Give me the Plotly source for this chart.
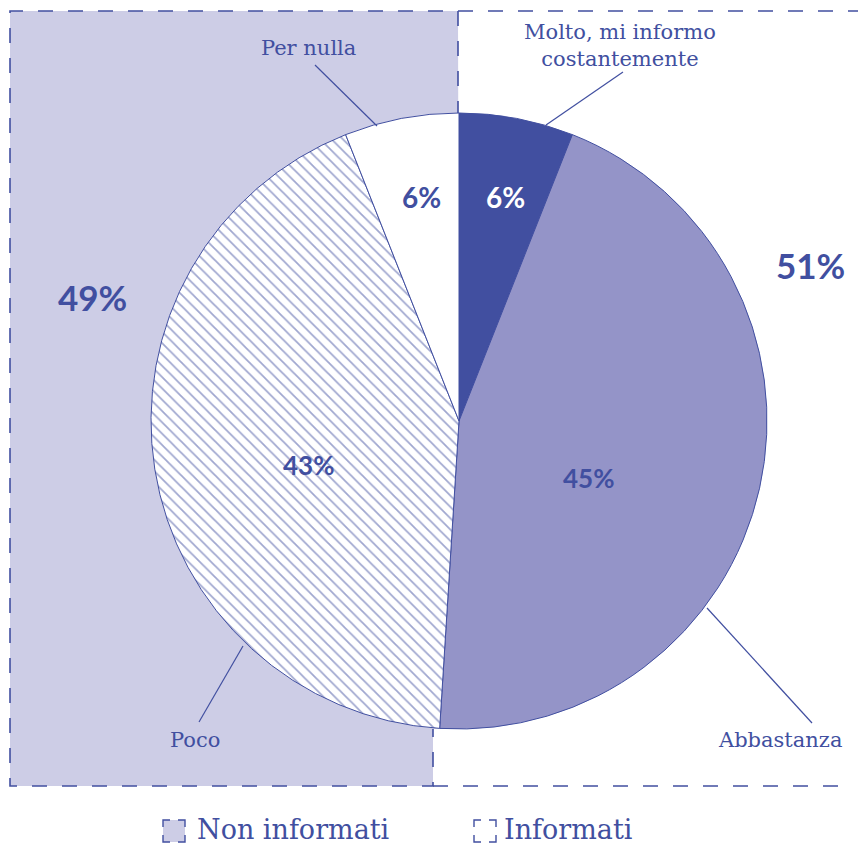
import plotly.graph_objects as go

# ---- data ----
labels = ["Molto, mi informo<br>costantemente", "Abbastanza", "Poco", "Per nulla"]
values = [6, 45, 43, 6]
groups = ["Non informati", "Informati"]
group_pct = [49, 51]

W, H = 858, 844
BLUE = "#414FA0"
MID = "#9494C8"
LIGHT = "#CDCDE6"
SERIF = "DejaVu Serif"
SANS = "Lato"


def px(x):
    return x / W


def py(y):
    return 1 - y / H


def path(points, close=False):
    s = ""
    for i, (x, y) in enumerate(points):
        s += ("M" if i == 0 else "L") + f"{px(x):.5f},{py(y):.5f} "
    if close:
        s += "Z"
    return s


cx, cy, R = 459, 421, 308

fig = go.Figure()
fig.add_trace(go.Pie(
    labels=[l.replace("<br>", " ") for l in labels],
    values=values,
    sort=False,
    direction="clockwise",
    rotation=0,
    textinfo="none",
    hoverinfo="label+percent",
    marker=dict(
        colors=[BLUE, MID, "white", "white"],
        line=dict(color=BLUE, width=1),
        pattern=dict(shape=["", "", "\\", ""], fgcolor=BLUE, bgcolor="white",
                     size=8, solidity=0.22, fillmode="overlay"),
    ),
    domain=dict(x=[px(cx - R), px(cx + R)], y=[py(cy + R), py(cy - R)]),
    showlegend=False,
))

shapes = []
# shaded "non informati" region
shapes.append(dict(type="path", xref="paper", yref="paper", layer="below",
                   path=path([(10, 11), (458, 11), (459, 421), (440, 729), (433, 729),
                              (433, 786), (10, 786)], close=True),
                   fillcolor=LIGHT, line=dict(width=0)))
dash = "15px,15px"
shapes.append(dict(type="path", xref="paper", yref="paper", layer="below",
                   path=path([(458, 116), (458, 11), (10, 11), (10, 786), (433, 786), (433, 729)]),
                   line=dict(color=BLUE, width=1.6, dash=dash)))
shapes.append(dict(type="path", xref="paper", yref="paper", layer="below",
                   path=path([(458, 11), (858, 11)]),
                   line=dict(color=BLUE, width=1.6, dash=dash)))
shapes.append(dict(type="path", xref="paper", yref="paper", layer="below",
                   path=path([(433, 786), (848, 786)]),
                   line=dict(color=BLUE, width=1.6, dash=dash)))

# leader lines
leaders = [((623, 72), (546, 125)), ((812, 723), (707, 608)),
           ((199, 722), (243, 646)), ((315, 65), (377, 126))]
for (x0, y0), (x1, y1) in leaders:
    shapes.append(dict(type="line", xref="paper", yref="paper",
                       x0=px(x0), y0=py(y0), x1=px(x1), y1=py(y1),
                       line=dict(color=BLUE, width=1.2)))


# legend swatches (corner-bracket dashed squares)
def corners(x0, y0, s, c):
    segs = [[(x0, y0 + c), (x0, y0), (x0 + c, y0)],
            [(x0 + s - c, y0), (x0 + s, y0), (x0 + s, y0 + c)],
            [(x0 + s, y0 + s - c), (x0 + s, y0 + s), (x0 + s - c, y0 + s)],
            [(x0 + c, y0 + s), (x0, y0 + s), (x0, y0 + s - c)]]
    return " ".join(path(sg) for sg in segs)


sw = [(163, 820), (474, 820)]
for i, (x0, y0) in enumerate(sw):
    if i == 0:
        shapes.append(dict(type="rect", xref="paper", yref="paper",
                           x0=px(x0), x1=px(x0 + 22), y0=py(y0 + 22), y1=py(y0),
                           fillcolor=LIGHT, line=dict(width=0)))
    shapes.append(dict(type="path", xref="paper", yref="paper",
                       path=corners(x0, y0, 22, 7),
                       line=dict(color=BLUE, width=1.4)))

ann = []
# outside labels
lab_pos = [(620, 45), (780, 740), (195, 740), (308, 48)]
for t, (x, y) in zip(labels, lab_pos):
    ann.append(dict(x=px(x), y=py(y), xref="paper", yref="paper", text=t, showarrow=False,
                    xanchor="center", yanchor="middle", align="center",
                    font=dict(family=SERIF, size=21, color=BLUE)))

# inside percentages
in_pos = [(505, 197), (588, 478), (308, 465), (421, 197)]
in_col = ["white", BLUE, BLUE, BLUE]
in_size = [28, 26, 26, 28]
for v, (x, y), c, s in zip(values, in_pos, in_col, in_size):
    ann.append(dict(x=px(x), y=py(y), xref="paper", yref="paper", text=f"<b>{v}%</b>",
                    showarrow=False, xanchor="center", yanchor="middle",
                    font=dict(family=SANS, size=s, color=c)))

# group percentages
g_pos = [(92, 297), (810, 265)]
for v, (x, y) in zip(group_pct, g_pos):
    ann.append(dict(x=px(x), y=py(y), xref="paper", yref="paper", text=f"<b>{v}%</b>",
                    showarrow=False, xanchor="center", yanchor="middle",
                    font=dict(family=SANS, size=35, color=BLUE)))

# legend text
leg_x = [196, 503]
for g, x in zip(groups, leg_x):
    ann.append(dict(x=px(x), y=0, xref="paper", yref="paper", text=g, showarrow=False,
                    xanchor="left", yanchor="bottom", borderpad=0, yshift=-2,
                    font=dict(family=SERIF, size=27, color=BLUE)))

fig.update_layout(
    width=W, height=H,
    margin=dict(l=0, r=0, t=0, b=0, pad=0),
    paper_bgcolor="white", plot_bgcolor="white",
    shapes=shapes, annotations=ann,
)
fig.write_html("out.html", config={"displayModeBar": False},
               post_script="document.body.style.margin='0';document.body.style.padding='0';")
